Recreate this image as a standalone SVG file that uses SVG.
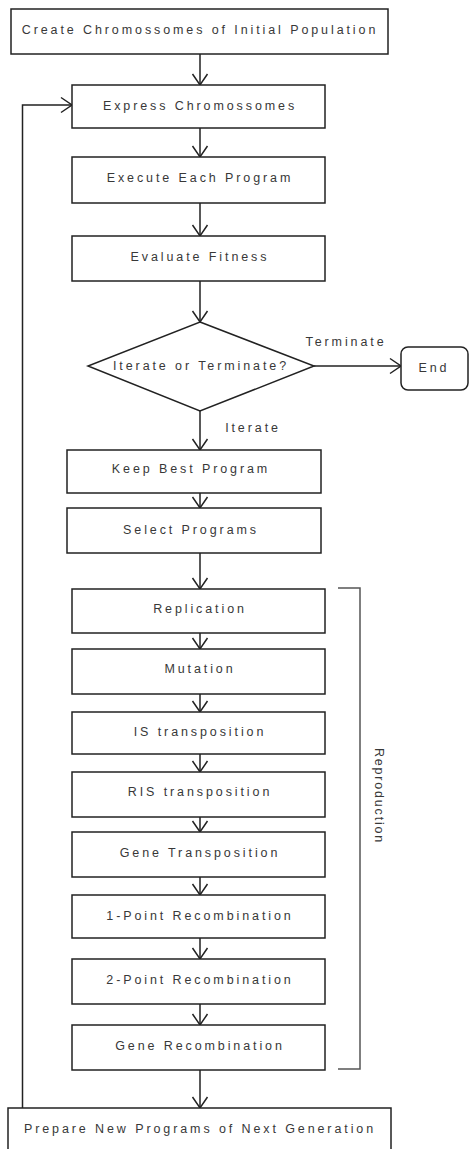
<svg xmlns="http://www.w3.org/2000/svg" width="469" height="1149" viewBox="0 0 469 1149">
<style>
.box{fill:#fff;stroke:#222;stroke-width:1.5}
.t{font-family:"Liberation Sans",Arial,sans-serif;font-size:12.5px;fill:#383838;letter-spacing:2.9px;text-anchor:middle}
.c{fill:none;stroke:#222;stroke-width:1.5}
.br{fill:none;stroke:#555;stroke-width:1.5}
</style>
<defs>
<marker id="ah" markerUnits="userSpaceOnUse" markerWidth="20" markerHeight="20" viewBox="-12 -10 14 20" refX="0" refY="0" orient="auto">
<path d="M-11,-7.5 L0,0 L-11,7.5" fill="none" stroke="#222" stroke-width="1.5"/>
</marker>
</defs>
<rect width="469" height="1149" fill="#fff"/>
<g id="connectors">
<line class="c" x1="200" y1="54" x2="200" y2="85" marker-end="url(#ah)"/>
<line class="c" x1="200" y1="128" x2="200" y2="157" marker-end="url(#ah)"/>
<line class="c" x1="200" y1="203" x2="200" y2="236" marker-end="url(#ah)"/>
<line class="c" x1="200" y1="281" x2="200" y2="322" marker-end="url(#ah)"/>
<line class="c" x1="314" y1="366" x2="401" y2="366" marker-end="url(#ah)"/>
<line class="c" x1="200" y1="411" x2="200" y2="450" marker-end="url(#ah)"/>
<line class="c" x1="200" y1="493" x2="200" y2="508" marker-end="url(#ah)"/>
<line class="c" x1="200" y1="553" x2="200" y2="589" marker-end="url(#ah)"/>
<line class="c" x1="200" y1="633" x2="200" y2="649" marker-end="url(#ah)"/>
<line class="c" x1="200" y1="694" x2="200" y2="712" marker-end="url(#ah)"/>
<line class="c" x1="200" y1="754" x2="200" y2="772" marker-end="url(#ah)"/>
<line class="c" x1="200" y1="817" x2="200" y2="832" marker-end="url(#ah)"/>
<line class="c" x1="200" y1="877" x2="200" y2="895" marker-end="url(#ah)"/>
<line class="c" x1="200" y1="938" x2="200" y2="959" marker-end="url(#ah)"/>
<line class="c" x1="200" y1="1004" x2="200" y2="1025" marker-end="url(#ah)"/>
<line class="c" x1="200" y1="1070" x2="200" y2="1108" marker-end="url(#ah)"/>
<polyline class="c" points="22.5,1108 22.5,105 72,105" marker-end="url(#ah)"/>
<text class="t" x="346" y="346">Terminate</text>
<text class="t" x="253" y="432">Iterate</text>
</g>
<g id="n1"><rect class="box" x="11" y="9" width="377" height="45"/><text class="t" x="200" y="34">Create Chromossomes of Initial Population</text></g>
<g id="n2"><rect class="box" x="72" y="85" width="253" height="43"/><text class="t" x="200" y="110">Express Chromossomes</text></g>
<g id="n3"><rect class="box" x="72" y="157" width="253" height="46"/><text class="t" x="200" y="182">Execute Each Program</text></g>
<g id="n4"><rect class="box" x="72" y="236" width="253" height="45"/><text class="t" x="200" y="261">Evaluate Fitness</text></g>
<g id="n5"><polygon class="box" points="200,322 314,366 200,411 88,366"/><text class="t" x="201" y="370">Iterate or Terminate?</text></g>
<g id="n6"><rect class="box" x="401" y="347" width="67" height="43" rx="7"/><text class="t" x="434" y="372">End</text></g>
<g id="n7"><rect class="box" x="67" y="450" width="254" height="43"/><text class="t" x="191" y="473">Keep Best Program</text></g>
<g id="n8"><rect class="box" x="67" y="508" width="254" height="45"/><text class="t" x="191" y="534">Select Programs</text></g>
<g id="n9"><rect class="box" x="72" y="589" width="253" height="44"/><text class="t" x="200" y="613">Replication</text></g>
<g id="n10"><rect class="box" x="72" y="649" width="253" height="45"/><text class="t" x="200" y="673">Mutation</text></g>
<g id="n11"><rect class="box" x="72" y="712" width="253" height="42"/><text class="t" x="200" y="736">IS transposition</text></g>
<g id="n12"><rect class="box" x="72" y="772" width="253" height="45"/><text class="t" x="200" y="796">RIS transposition</text></g>
<g id="n13"><rect class="box" x="72" y="832" width="253" height="45"/><text class="t" x="200" y="857">Gene Transposition</text></g>
<g id="n14"><rect class="box" x="72" y="895" width="253" height="43"/><text class="t" x="200" y="920">1-Point Recombination</text></g>
<g id="n15"><rect class="box" x="72" y="959" width="253" height="45"/><text class="t" x="200" y="984">2-Point Recombination</text></g>
<g id="n16"><rect class="box" x="72" y="1025" width="253" height="45"/><text class="t" x="200" y="1050">Gene Recombination</text></g>
<g id="n17"><rect class="box" x="8" y="1108" width="383" height="50"/><text class="t" x="200" y="1133">Prepare New Programs of Next Generation</text></g>
<g id="reproduction">
<polyline class="br" points="338,588 360,588 360,1069 338,1069"/>
<text class="t" x="0" y="0" style="letter-spacing:1.8px" transform="translate(375,796) rotate(90)">Reproduction</text>
</g>
</svg>
